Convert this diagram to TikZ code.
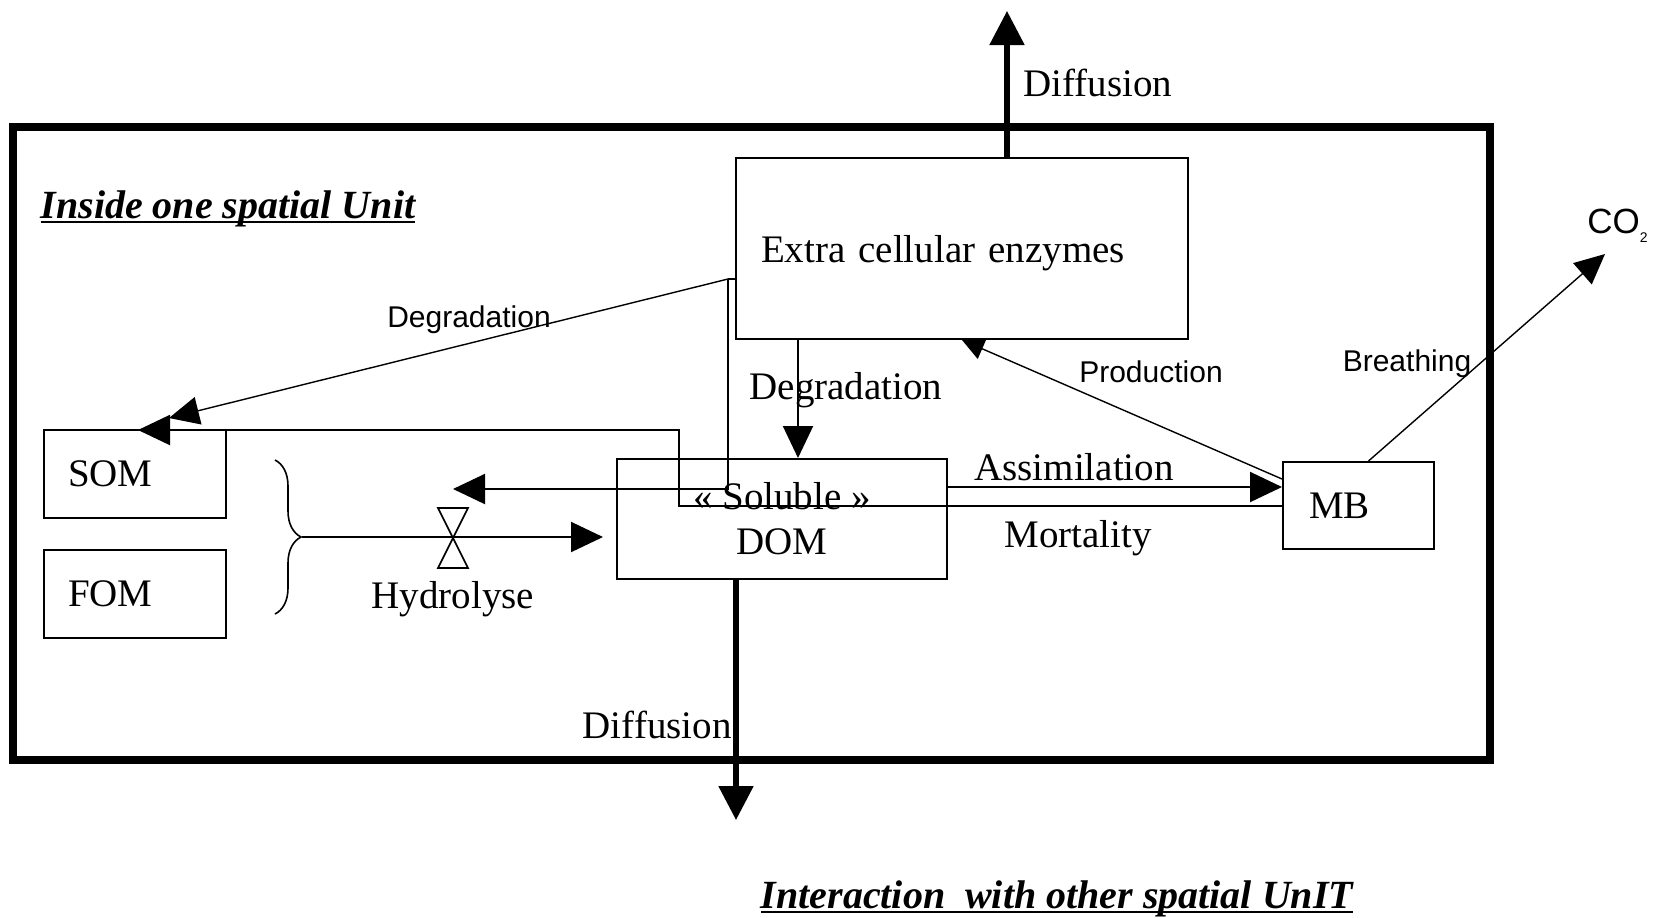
\documentclass[tikz,border=0pt]{standalone}
\usepackage{fontspec}
\setmainfont{Liberation Serif}
\newfontfamily\ratesans{Liberation Sans}
\usepackage{tikz}
\usetikzlibrary{arrows.meta,calc,decorations.pathreplacing}

\newcommand{\poolfont}{\fontsize{19.5}{22.5}\selectfont}
\newcommand{\ratefont}{\ratesans\fontsize{15}{17}\selectfont}
\newcommand{\unitfont}{\bfseries\itshape\fontsize{20}{23}\selectfont}
\newcommand{\unitul}[1]{\setbox0\hbox{#1}\rlap{\rule[-2.2pt]{\wd0}{0.9pt}}\box0}

\tikzset{
  pool/.style={draw, line width=1pt, font=\poolfont, inner ysep=0pt, align=left},
  flow/.style={line width=1pt, -{Triangle[length=16pt,width=15pt]}},
  thinflow/.style={line width=0.7pt, -{Triangle[length=15pt,width=14pt]}},
  smallflow/.style={line width=0.7pt, -{Triangle[length=11pt,width=11pt]}},
  outflow/.style={line width=2.6pt, -{Triangle[length=17pt,width=17pt]}},
  proc/.style={font=\poolfont, inner sep=0pt},
  rate/.style={font=\ratefont, inner sep=0pt},
}

\begin{document}
\begin{tikzpicture}[x=0.5pt, y=-0.5pt]
  \useasboundingbox (0,0) rectangle (1659,917);

  % spatial unit
  \draw[line width=3.6pt] (13,127) rectangle (1490,760);
  \node[font=\unitfont, inner sep=0pt] (inside) at (228,209) {\unitul{Inside one spatial Unit}};
  \node[font=\unitfont, inner sep=0pt] (interaction) at (1057,899) {\unitul{Interaction\ \ with other spatial UnIT}};

  % pools
  \node[pool, text width=67pt, inner xsep=12pt, minimum height=44pt] (som) at (135,474) {SOM};
  \node[pool, text width=67pt, inner xsep=12pt, minimum height=44pt] (fom) at (135,594) {FOM};
  \node[pool, text width=201pt, inner xsep=12.5pt, minimum height=90.5pt,
        text height=18.3pt, text depth=4.2pt] (enz) at (962,248.5) {Extra cellular enzymes};
  \node[pool, align=center, minimum width=165pt, minimum height=60pt] (dom) at (782,519) {« Soluble »\\DOM};
  \node[pool, text width=49.5pt, inner xsep=13pt, minimum height=43.5pt] (mb) at (1358.5,505.5) {MB};

  \coordinate (outtop) at (1007,11);
  \coordinate (outbot) at (736,820);
  \coordinate (degsplit) at (728,279);
  \coordinate (somin) at (169,418);
  \coordinate (backtip) at (453,489);
  \coordinate (mortbend) at (679,430);
  \coordinate (somtip) at (138,430);
  \coordinate (bracetip) at (302,537);
  \coordinate (co2tip) at (1605,254);

  % hydrolyse
  \draw[line width=0.8pt, decorate, decoration={brace, amplitude=13pt}] (275,460) -- (275,614);
  \draw[flow] (bracetip) -- ($(dom.west |- bracetip)+(-13,0)$);
  \draw[line width=0.8pt, fill=white] (438,508) -- (468,508) -- (438,568) -- (468,568) -- cycle;
  \node[proc] (hydro) at (453,599) {Hydrolyse};

  % enzymes
  \draw[outflow] (enz.north -| outtop) -- (outtop);
  \node[proc, anchor=west] (difftop) at (1023,83) {Diffusion};
  \draw[line width=1pt] (enz.west |- degsplit) -- (degsplit);
  \draw[thinflow] (degsplit) -- (somin);
  \node[rate] (degsom) at (469,320) {Degradation};
  \draw[flow] (degsplit) |- (backtip);
  \draw[flow] (enz.south -| 798,0) -- (dom.north -| 798,0);
  \node[proc] (degdom) at (846,390) {Degradation};

  % microbial biomass
  \draw[flow] (dom.east |- 0,487) -- (mb.west |- 0,487);
  \node[proc] (assim) at (1074,467) {Assimilation};
  \draw[flow] (mb.west) -| (mortbend) -- (somtip);
  \node[proc] (mort) at (1078,538) {Mortality};
  \draw[smallflow] (mb.west |- 0,479) -- (enz.south);
  \node[rate] (prod) at (1151,372) {Production};
  \draw[thinflow] ([xshift=5pt]mb.north) -- (co2tip);
  \node[rate] (breath) at (1407,364) {Breathing};
  \node[font=\ratesans\fontsize{17.5}{20}\selectfont, inner sep=0pt, anchor=west] (co2) at (1587,226) {CO\raisebox{-0.5ex}{\fontsize{7}{8}\selectfont 2}};

  % exchange
  \draw[outflow] (dom.south -| outbot) -- (outbot);
  \node[proc, anchor=east] (diffbot) at (732,725) {Diffusion};
\end{tikzpicture}
\end{document}
